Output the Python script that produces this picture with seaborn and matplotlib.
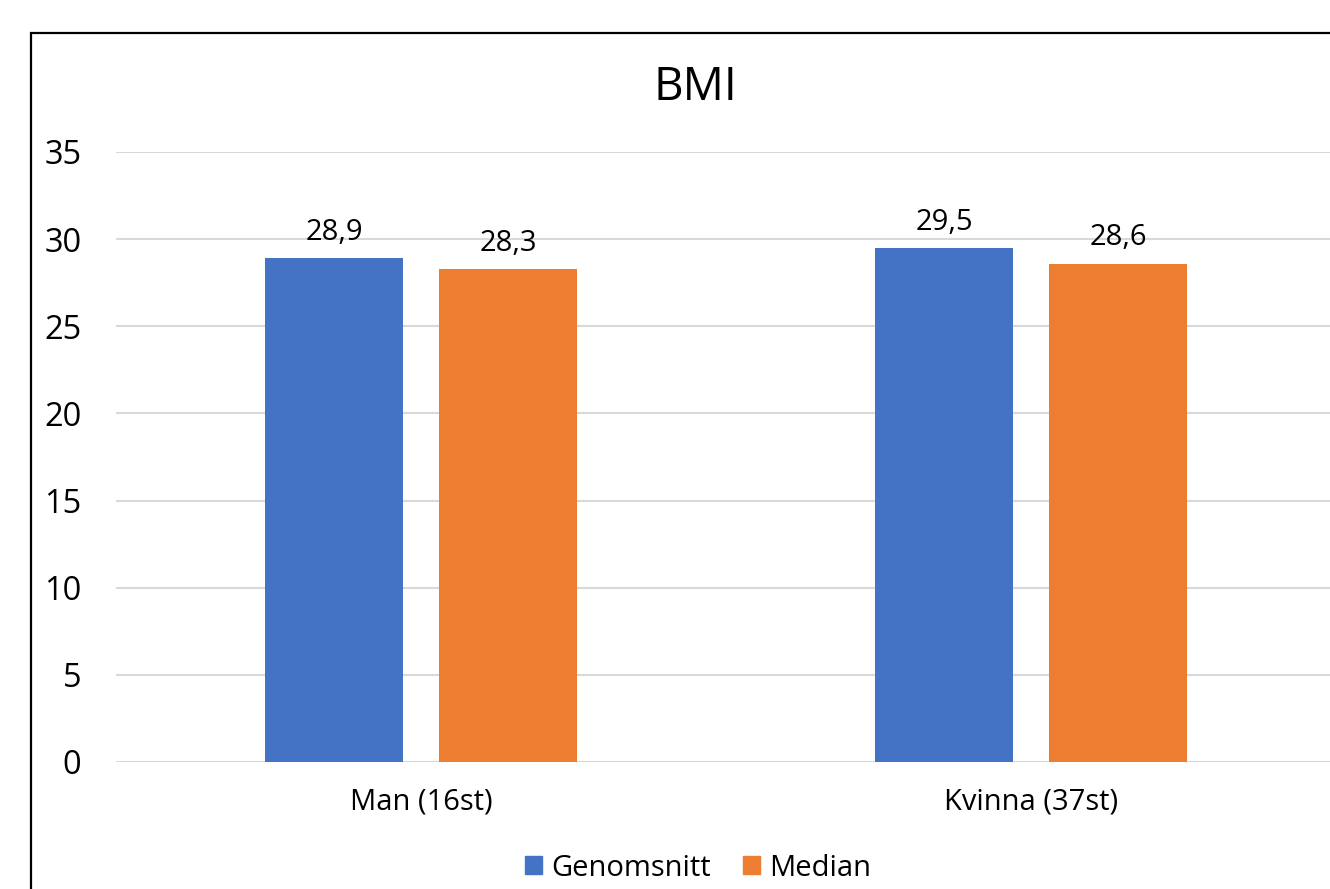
import matplotlib
matplotlib.use("Agg")
import matplotlib.pyplot as plt
import pandas as pd
import seaborn as sns
from matplotlib.patches import Rectangle

categories = ["Man (16st)", "Kvinna (37st)"]
series = ["Genomsnitt", "Median"]
genomsnitt = [28.9, 29.5]
median = [28.3, 28.6]
yticks = [0, 5, 10, 15, 20, 25, 30, 35]
colors = ["#4472C4", "#ED7D31"]

df = pd.DataFrame({
    "kategori": categories * 2,
    "serie": [series[0]] * 2 + [series[1]] * 2,
    "bmi": genomsnitt + median,
})

sns.set_style("white")
plt.rcParams["font.family"] = ["Open Sans", "DejaVu Sans"]
plt.rcParams["text.color"] = "black"
plt.rcParams["xtick.color"] = "black"
plt.rcParams["ytick.color"] = "black"

fig = plt.figure(figsize=(13.3, 8.89), dpi=100)
# plot area runs past the right edge, like the cropped screenshot
ax = fig.add_axes([116 / 1330, 127 / 889, 1220 / 1330, 610 / 889])

sns.barplot(
    data=df, x="kategori", y="bmi", hue="serie",
    palette=colors, saturation=1, width=0.57, gap=0.21, ax=ax, legend=False,
    linewidth=0,
)

ax.set_xlim(-0.5, 1.5)
ax.set_ylim(0, 35)
ax.set_yticks(yticks)
ax.yaxis.grid(True, color="#D9D9D9", linewidth=1.5)
ax.set_axisbelow(True)
for s in ax.spines.values():
    s.set_visible(False)
ax.tick_params(axis="y", labelsize=23.5, length=0, pad=25)
ax.tick_params(axis="x", labelsize=21, length=0, pad=18)
ax.set_xlabel("")
ax.set_ylabel("")

for cont in ax.containers:
    ax.bar_label(
        cont, labels=[f"{v:.1f}".replace(".", ",") for v in cont.datavalues],
        padding=8, fontsize=21,
    )

fig.text(695 / 1330, 1 - 88 / 889, "BMI", ha="center", va="center", fontsize=33)

handles = [Rectangle((0, 0), 1, 1, color=c) for c in colors]
fig.legend(
    handles, series, loc="center", bbox_to_anchor=(698 / 1330, 1 - 868 / 889),
    ncol=2, frameon=False, fontsize=21, handlelength=0.6, handleheight=0.6,
    handletextpad=0.3, columnspacing=1.1,
)

fig.patches.append(Rectangle(
    (31 / 1330, -0.1), 1.2, 1 - 33 / 889 + 0.1, transform=fig.transFigure,
    fill=False, edgecolor="black", linewidth=1.6, zorder=10,
))

fig.savefig("out.png", dpi=100)
